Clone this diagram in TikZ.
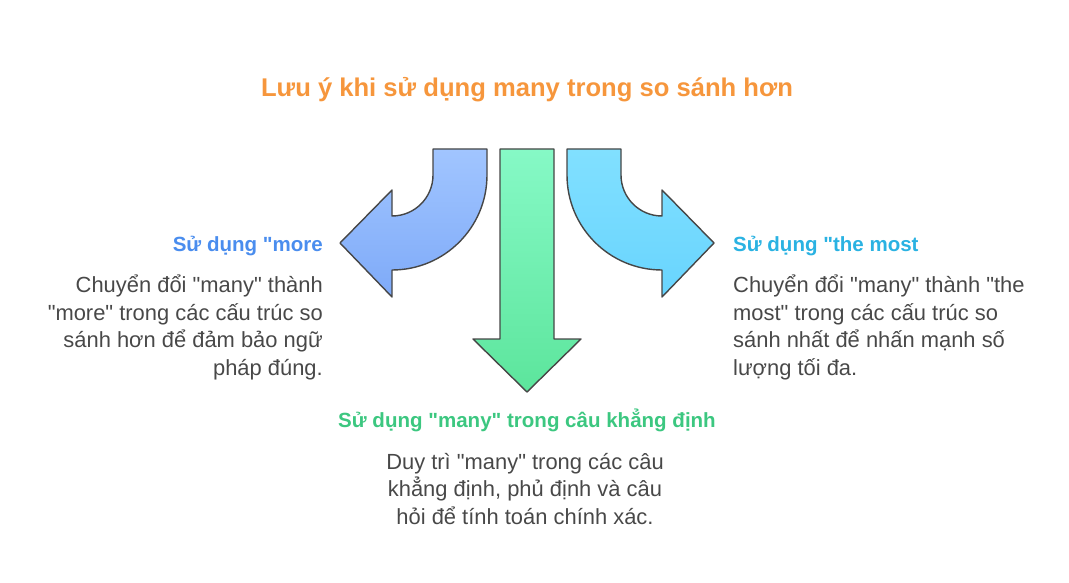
\documentclass[tikz,border=0pt]{standalone}
\usepackage{fontspec}
\setmainfont{Liberation Sans}[Ligatures=TeXOff]
\usetikzlibrary{positioning}

\definecolor{titleorange}{RGB}{246,150,60}
\definecolor{moreblue}{RGB}{74,141,238}
\definecolor{mostcyan}{RGB}{42,178,226}
\definecolor{manygreen}{RGB}{60,199,128}
\definecolor{bodygray}{RGB}{72,72,72}
\definecolor{arrowedge}{RGB}{70,70,70}
\definecolor{lefttop}{RGB}{161,197,255}
\definecolor{leftbot}{RGB}{126,170,248}
\definecolor{midtop}{RGB}{134,249,198}
\definecolor{midbot}{RGB}{92,229,156}
\definecolor{righttop}{RGB}{129,224,255}
\definecolor{rightbot}{RGB}{104,212,254}

\begin{document}
\begin{tikzpicture}[
    % GLOBAL CFG
    x=1bp, y=-1bp,
    line join=round,
    % Styles
    bendarrow/.style={% For the three big arrows
        draw=arrowedge,
        line width=1.4bp,
        },
    maintitle/.style={% For the title on top
        font=\bfseries\fontsize{25.7}{30}\selectfont,
        text=titleorange,
        inner sep=0pt,
        },
    heading/.style={% For the headings
        font=\bfseries\fontsize{20.6}{24}\selectfont,
        inner sep=0pt,
        },
    body/.style={% For the text under a heading (base = last line)
        font=\fontsize{22}{27.5}\selectfont,
        text=bodygray,
        inner sep=0pt,
        }
    ]

    % Fix the page
    \useasboundingbox (0,0) rectangle (1069,583);

    % Draw the title
    \node [maintitle, anchor=base] (title) at (527,97) {Lưu ý khi sử dụng many trong so sánh hơn};

%Start drawing the arrows...
    % Left arrow, bends to the left
    \draw [bendarrow, top color=lefttop, bottom color=leftbot]
        (433,149) -- (487,149) -- (487,175)
        arc [start angle=0, end angle=90, radius=95]
        -- (392,297) -- (340,243) -- (392,190) -- (392,216)
        arc [start angle=90, end angle=0, radius=41] -- cycle;

    % Middle arrow, straight down
    \draw [bendarrow, top color=midtop, bottom color=midbot]
        (500,149) -- (554,149) -- (554,339) -- (581,339)
        -- (527,392) -- (473,339) -- (500,339) -- cycle;

    % Right arrow, bends to the right
    \draw [bendarrow, top color=righttop, bottom color=rightbot]
        (621,149) -- (567,149) -- (567,175)
        arc [start angle=180, end angle=90, radius=95]
        -- (662,297) -- (714,243) -- (662,190) -- (662,216)
        arc [start angle=90, end angle=180, radius=41] -- cycle;

% Texts beside the arrows
    % Left: more
    \node [heading, text=moreblue, anchor=base east] (morehead) at (323,252) {Sử dụng "more};
    \node [body, anchor=base east, align=right] (morebody) at (323,375)
        {Chuyển đổi "many" thành\\"more" trong các cấu trúc so\\sánh hơn để đảm bảo ngữ\\pháp đúng.};

    % Right: the most
    \node [heading, text=mostcyan, anchor=base west] (mosthead) at (733,252) {Sử dụng "the most};
    \node [body, anchor=base west, align=left] (mostbody) at (733,375)
        {Chuyển đổi "many" thành "the\\most" trong các cấu trúc so\\sánh nhất để nhấn mạnh số\\lượng tối đa.};

    % Bottom: many
    \node [heading, text=manygreen, anchor=base] (manyhead) at (527,427) {Sử dụng "many" trong câu khẳng định};
    \node [body, anchor=base, align=center] (manybody) at (525,524)
        {Duy trì "many" trong các câu\\khẳng định, phủ định và câu\\hỏi để tính toán chính xác.};

\end{tikzpicture}
\end{document}
